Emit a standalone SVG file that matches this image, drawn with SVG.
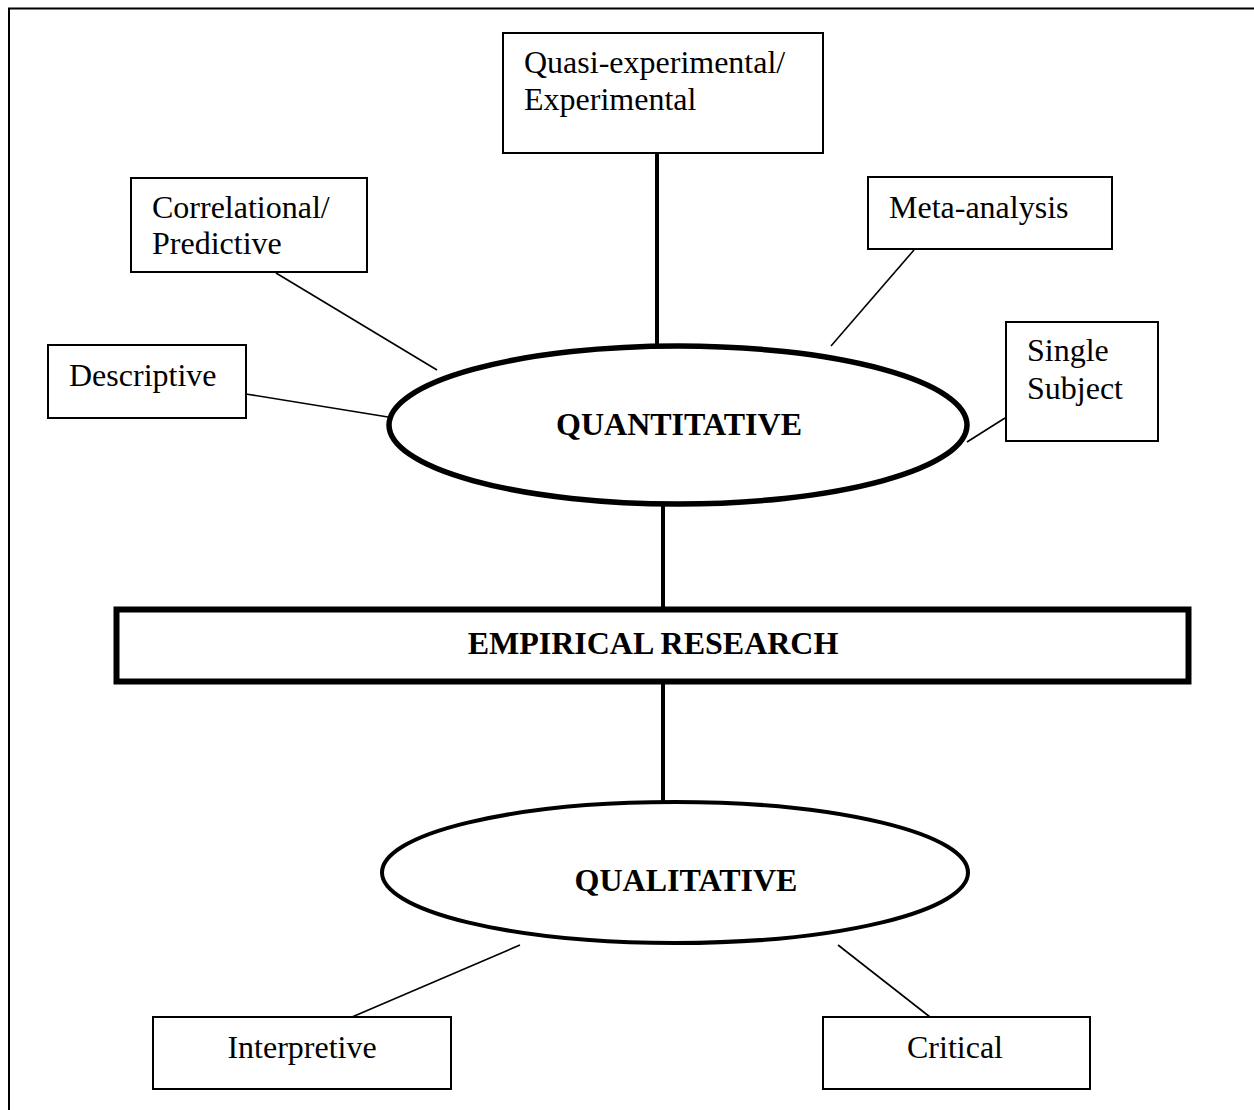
<svg xmlns="http://www.w3.org/2000/svg" width="1254" height="1110" viewBox="0 0 1254 1110">
  <style>
    .box { fill: #ffffff; stroke: #000000; stroke-width: 2; }
    .lbl { font-family: "Liberation Serif", "Times New Roman", serif; font-size: 32px; fill: #000000; }
    .hd { font-family: "Liberation Serif", "Times New Roman", serif; font-size: 32px; font-weight: bold; fill: #000000; text-anchor: middle; }
    .thin { stroke: #000000; stroke-width: 1.6; fill: none; }
    .thick { stroke: #000000; stroke-width: 4; fill: none; }
  </style>
  <rect x="0" y="0" width="1254" height="1110" fill="#ffffff"/>
  <!-- page frame, runs off the right and bottom edges -->
  <rect x="9" y="8.5" width="1270" height="1130" fill="none" stroke="#000000" stroke-width="2"/>

  <g id="connectors">
    <line class="thick" x1="657" y1="153" x2="657" y2="346"/>
    <line class="thin" x1="276" y1="273" x2="437" y2="370"/>
    <line class="thin" x1="246" y1="394" x2="388" y2="417"/>
    <line class="thin" x1="914" y1="250" x2="831" y2="346"/>
    <line class="thin" x1="1005" y1="418" x2="967" y2="442"/>
    <line class="thick" x1="663" y1="505" x2="663" y2="607"/>
    <line class="thick" x1="663" y1="684" x2="663" y2="802"/>
    <line class="thin" x1="352" y1="1017" x2="520" y2="945"/>
    <line class="thin" x1="838" y1="945" x2="930" y2="1017"/>
  </g>

  <g id="quasi-experimental">
    <rect class="box" x="503" y="33" width="320" height="120"/>
    <text class="lbl" x="524" y="73">Quasi-experimental/</text>
    <text class="lbl" x="524" y="110">Experimental</text>
  </g>

  <g id="correlational">
    <rect class="box" x="131" y="178" width="236" height="94"/>
    <text class="lbl" x="152" y="218">Correlational/</text>
    <text class="lbl" x="152" y="254">Predictive</text>
  </g>

  <g id="meta-analysis">
    <rect class="box" x="868" y="177" width="244" height="72"/>
    <text class="lbl" x="889" y="218">Meta-analysis</text>
  </g>

  <g id="descriptive">
    <rect class="box" x="48" y="345" width="198" height="73"/>
    <text class="lbl" x="69" y="386">Descriptive</text>
  </g>

  <g id="single-subject">
    <rect class="box" x="1006" y="322" width="152" height="119"/>
    <text class="lbl" x="1027" y="361">Single</text>
    <text class="lbl" x="1027" y="399">Subject</text>
  </g>

  <g id="quantitative">
    <ellipse cx="678" cy="425" rx="289" ry="79" fill="#ffffff" stroke="#000000" stroke-width="5.5"/>
    <text class="hd" x="679" y="435">QUANTITATIVE</text>
  </g>

  <g id="empirical-research">
    <rect x="116.5" y="609.5" width="1072" height="72" fill="#ffffff" stroke="#000000" stroke-width="6"/>
    <text class="hd" x="653" y="654">EMPIRICAL RESEARCH</text>
  </g>

  <g id="qualitative">
    <ellipse cx="675" cy="872.5" rx="293" ry="70.5" fill="#ffffff" stroke="#000000" stroke-width="4"/>
    <text class="hd" x="686" y="891">QUALITATIVE</text>
  </g>

  <g id="interpretive">
    <rect class="box" x="153" y="1017" width="298" height="72"/>
    <text class="lbl" x="302" y="1058" text-anchor="middle">Interpretive</text>
  </g>

  <g id="critical">
    <rect class="box" x="823" y="1017" width="267" height="72"/>
    <text class="lbl" x="955" y="1058" text-anchor="middle">Critical</text>
  </g>
</svg>
